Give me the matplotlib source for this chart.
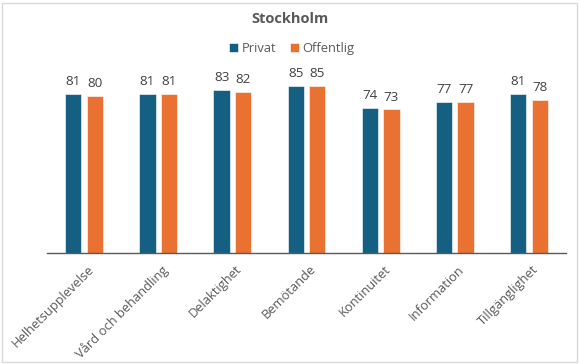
import matplotlib
matplotlib.use("Agg")
import matplotlib.pyplot as plt
import numpy as np
from matplotlib.patches import Rectangle

categories = ["Helhetsupplevelse", "Vård och behandling", "Delaktighet", "Bemötande",
              "Kontinuitet", "Information", "Tillgänglighet"]
privat = [81, 81, 83, 85, 74, 77, 81]
offentlig = [80, 81, 82, 85, 73, 77, 78]
series_names = ["Privat", "Offentlig"]
colors = ["#156082", "#E97132"]

plt.rcParams['font.family'] = ['Open Sans', 'DejaVu Sans']
txt = "#595959"

fig = plt.figure(figsize=(5.8, 3.64), dpi=100)
ax = fig.add_axes([0.081, 0.305, 0.895, 0.54])

x = np.arange(len(categories))
w = 0.22
gap = 0.035
b1 = ax.bar(x - w / 2 - gap, privat, w, color=colors[0], edgecolor="white", linewidth=0.4, label=series_names[0])
b2 = ax.bar(x + w / 2 + gap, offentlig, w, color=colors[1], edgecolor="white", linewidth=0.4, label=series_names[1])
for bars in (b1, b2):
    ax.bar_label(bars, padding=4, fontsize=9.6, color="#404040")

ax.set_xlim(-0.5, len(categories) - 0.5)
ax.set_ylim(0, 100)
ax.set_yticks([])
for s in ["top", "right", "left"]:
    ax.spines[s].set_visible(False)
ax.spines["bottom"].set_color("#595959")
ax.spines["bottom"].set_linewidth(1.0)
ax.tick_params(axis="x", length=0, pad=7)
ax.set_xticks(x + 0.04)
ax.set_xticklabels(categories, rotation=45, ha="right", rotation_mode="anchor",
                   fontsize=9.3, color=txt)

fig.text(0.5, 0.948, "Stockholm", ha="center", va="center", fontsize=10.5,
         fontweight="bold", color=txt)
fig.legend(handles=[b1, b2], labels=series_names, loc="center", bbox_to_anchor=(0.503, 0.866),
           ncol=2, frameon=False, fontsize=9.3, handlelength=0.7, handleheight=0.7,
           handletextpad=0.3, columnspacing=1.0, labelcolor=txt)

fig.patches.append(Rectangle((0.004, 0.006), 0.99, 0.985, transform=fig.transFigure,
                             fill=False, edgecolor="#D9D9D9", linewidth=1.0))

fig.savefig("out.png", dpi=100)
